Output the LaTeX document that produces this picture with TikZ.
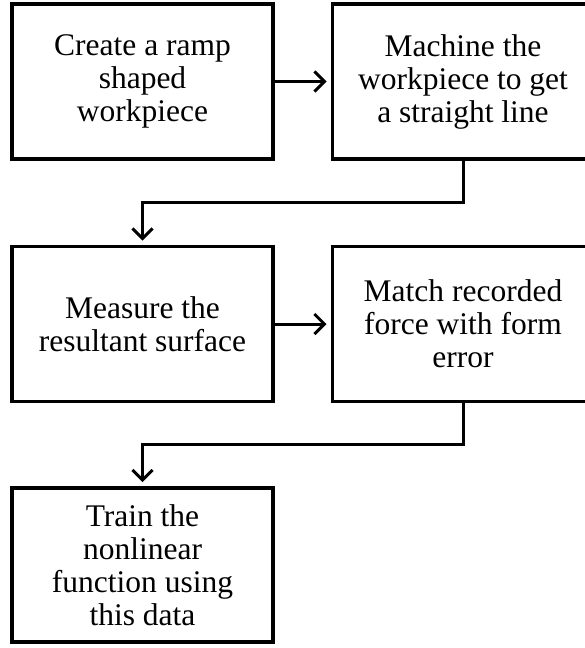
\documentclass[tikz,border=0pt]{standalone}
\usepackage{fontspec}
\setmainfont{Liberation Serif}
\usetikzlibrary{arrows.meta,calc}
\begin{document}
\begin{tikzpicture}[x=1pt,y=1pt,
  stepbox/.style={draw,line width=3.5pt,minimum width=261pt,minimum height=155pt,
    inner sep=0pt,outer sep=0pt,align=center,
    font=\fontsize{31.5}{33}\selectfont},
  conn/.style={line width=3pt,-{Straight Barb[length=10pt,width=20pt,line width=3pt]},shorten >=6pt}]
\useasboundingbox (0,0) rectangle (585,-648);
\node[stepbox] (b1) at (142.5,-81.5) {Create a ramp\\shaped\\workpiece};
\node[stepbox] (b2) at (463,-81.5) {Machine the\\workpiece to get\\a straight line};
\node[stepbox] (b3) at (142.5,-324) {Measure the\\resultant surface};
\node[stepbox] (b4) at (463,-324) {Match recorded\\force with form\\error};
\node[stepbox,minimum height=154pt] (b5) at (142.5,-565) {Train the\\nonlinear\\function using\\this data};
\draw[conn] (b1.east) -- (b2.west);
\draw[conn] (b3.east) -- (b4.west);
\draw[conn] (b2.south) -- ($(b2.south)!0.5!(b2.south|-b3.north)$) -| (b3.north);
\draw[conn] (b4.south) -- ($(b4.south)!0.5!(b4.south|-b5.north)$) -| (b5.north);
\end{tikzpicture}
\end{document}
